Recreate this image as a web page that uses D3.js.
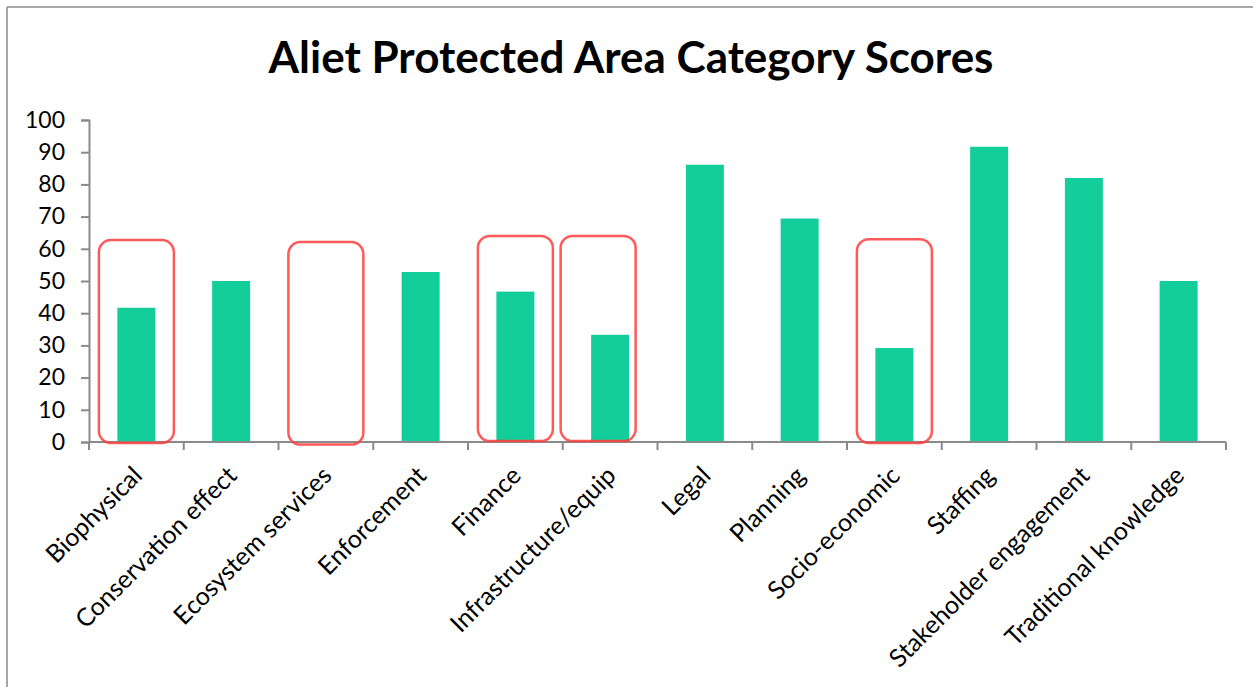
<!DOCTYPE html>
<html>
<head>
<meta charset="utf-8">
<script src="https://cdn.jsdelivr.net/npm/d3@7"></script>
<style>
  html, body { margin: 0; padding: 0; background: #fff; }
  svg { display: block; }
  text { font-family: Lato, "Open Sans", sans-serif; fill: #000; }
</style>
</head>
<body>
<svg id="chart" width="1253" height="687"></svg>
<script>
// Category scores for the Aliet protected area
const categories = [
  "Biophysical", "Conservation effect", "Ecosystem services", "Enforcement",
  "Finance", "Infrastructure/equip", "Legal", "Planning",
  "Socio-economic", "Staffing", "Stakeholder engagement", "Traditional knowledge"
];
const scores = [41.7, 50, 0, 52.8, 46.7, 33.3, 86.1, 69.4, 29.2, 91.7, 82, 50];
const yTicks = [0, 10, 20, 30, 40, 50, 60, 70, 80, 90, 100];

// Categories flagged with a red outline, and the score range each outline spans
const flagged = ["Biophysical", "Ecosystem services", "Finance", "Infrastructure/equip", "Socio-economic"];
const flagTops = [62.7, 62.1, 64, 64, 63];
const flagBottoms = [-0.3, -0.8, 0.3, 0.3, -0.3];

const title = "Aliet Protected Area Category Scores";

const svg = d3.select("#chart");

// frame lines
svg.append("line").attr("x1", 7).attr("y1", 7).attr("x2", 1253).attr("y2", 7)
  .attr("stroke", "#8a8a8a").attr("stroke-width", 1.5);
svg.append("line").attr("x1", 7).attr("y1", 7).attr("x2", 7).attr("y2", 687)
  .attr("stroke", "#8a8a8a").attr("stroke-width", 1.5);

const plot = { left: 89, right: 1226, top: 120, bottom: 442 };

const xBand = d3.scaleBand().domain(categories).range([plot.left, plot.right]);
const y = d3.scaleLinear().domain([0, 100]).range([plot.bottom, plot.top]);
const cx = (d) => xBand(d) + xBand.bandwidth() / 2;

// title
svg.append("text")
  .attr("x", 631).attr("y", 73)
  .attr("text-anchor", "middle")
  .style("font-size", "44px").style("font-weight", "bold")
  .text(title);

// bars
svg.append("g").selectAll("rect")
  .data(categories)
  .join("rect")
  .attr("x", (d) => cx(d) - 19)
  .attr("width", 38)
  .attr("y", (d, i) => y(scores[i]))
  .attr("height", (d, i) => y(0) - y(scores[i]))
  .attr("fill", "#13ce9b");

// y axis
const yAxis = svg.append("g")
  .attr("transform", `translate(${plot.left},0)`)
  .call(d3.axisLeft(y).tickValues(yTicks).tickSize(8).tickPadding(16).tickFormat(d3.format("d")));
yAxis.select(".domain").attr("stroke", "#8a8a8a").attr("stroke-width", 2);
yAxis.selectAll(".tick line").attr("stroke", "#8a8a8a").attr("stroke-width", 2);
yAxis.selectAll(".tick text").style("font-size", "23px").style("font-family", "Lato, sans-serif").attr("fill", "#000");

// x axis with ticks on the category boundaries
const xAxisG = svg.append("g").attr("transform", `translate(0,${plot.bottom})`);
xAxisG.append("line")
  .attr("x1", plot.left).attr("x2", plot.right)
  .attr("stroke", "#8a8a8a").attr("stroke-width", 2);
const boundaries = categories.map((d) => xBand(d)).concat([plot.right]);
xAxisG.selectAll("line.tick")
  .data(boundaries)
  .join("line")
  .attr("class", "tick")
  .attr("x1", (d) => d).attr("x2", (d) => d)
  .attr("y1", 0).attr("y2", 8)
  .attr("stroke", "#8a8a8a").attr("stroke-width", 2);

// rotated category labels
xAxisG.selectAll("text.cat")
  .data(categories)
  .join("text")
  .attr("class", "cat")
  .attr("transform", (d) => `translate(${cx(d) + 1},${29}) rotate(-45)`)
  .attr("text-anchor", "end")
  .attr("dy", "0.35em")
  .style("font-size", "25px")
  .text((d) => d);

// soft red outlines around flagged categories
const defs = svg.append("defs");
defs.append("filter").attr("id", "soft")
  .append("feGaussianBlur").attr("stdDeviation", 0.6);

const flagShift = { "Infrastructure/equip": -12 };
svg.append("g").selectAll("rect")
  .data(flagged)
  .join("rect")
  .attr("x", (d) => cx(d) - 37.5 + (flagShift[d] || 0))
  .attr("width", 75)
  .attr("y", (d, i) => y(flagTops[i]))
  .attr("height", (d, i) => y(flagBottoms[i]) - y(flagTops[i]))
  .attr("rx", 12).attr("ry", 12)
  .attr("fill", "none")
  .attr("stroke", "#ff3c3c")
  .attr("stroke-opacity", 0.85)
  .attr("stroke-width", 2.5)
  .attr("filter", "url(#soft)");
</script>
</body>
</html>
